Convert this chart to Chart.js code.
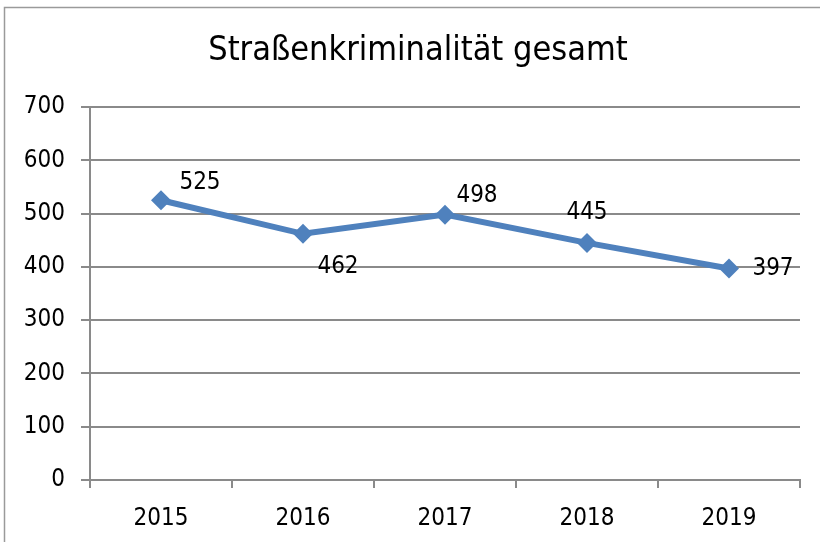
<!DOCTYPE html>
<html>
<head>
<meta charset="utf-8">
<script src="https://cdn.jsdelivr.net/npm/chart.js@4"></script>
<style>
  html, body { margin: 0; padding: 0; background: #fff; }
  #wrap { width: 820px; height: 542px; }
</style>
</head>
<body>
<div id="wrap"><canvas id="myChart" width="820" height="542"></canvas></div>
<script>
// chart data
const years = ['2015', '2016', '2017', '2018', '2019'];
const crimes = [525, 462, 498, 445, 397];
const yTicks = [0, 100, 200, 300, 400, 500, 600, 700];
const chartTitle = 'Straßenkriminalität gesamt';

const FONT = "'Liberation Sans Narrow', 'DejaVu Sans Condensed', sans-serif";
const GRID = '#8a8a8a';

// little plugin: outer frame, title, excel-like value labels
const extras = {
    id: 'extras',
    beforeDraw(chart) {
        const c = chart.ctx;
        c.save();
        c.strokeStyle = '#9a9a9a';
        c.lineWidth = 1.5;
        c.beginPath();
        c.moveTo(4.5, 545);
        c.lineTo(4.5, 7.5);
        c.lineTo(825, 7.5);
        c.stroke();
        // title, centred over the whole frame (not the canvas)
        c.font = '34px ' + FONT;
        c.fillStyle = '#000';
        c.textAlign = 'center';
        c.textBaseline = 'middle';
        c.fillText(chartTitle, 418, 51);
        c.restore();
    },
    afterDatasetsDraw(chart, args, opts) {
        const c = chart.ctx;
        const meta = chart.getDatasetMeta(0);
        c.save();
        c.font = '24px ' + FONT;
        c.fillStyle = '#000';
        c.textAlign = 'center';
        c.textBaseline = 'middle';
        meta.data.forEach((pt, i) => {
            const off = opts.offsets[i];
            c.fillText(String(crimes[i]), pt.x + off[0], pt.y + off[1]);
        });
        c.restore();
    }
};

let myChart = document.getElementById('myChart').getContext('2d');

let crimeChart = new Chart(myChart, {
    type: 'line',
    data: {
        labels: years,
        datasets: [{
            label: 'Straßenkriminalität',
            data: crimes,
            borderColor: '#4F81BD',
            backgroundColor: '#4F81BD',
            borderWidth: 6,
            pointStyle: 'rectRot',
            pointRadius: 10,
            pointHoverRadius: 10,
            pointBorderWidth: 0,
            tension: 0
        }]
    },
    options: {
        responsive: false,
        animation: false,
        layout: { padding: { left: 0, right: 20, top: 107, bottom: 0 } },
        plugins: {
            legend: { display: false },
            tooltip: { enabled: false },
            title: { display: false },
            extras: {
                offsets: [[39, -17], [35, 33], [32, -19], [0, -30], [44, 0]]
            }
        },
        scales: {
            x: {
                offset: true,
                grid: {
                    offset: true,
                    drawOnChartArea: false,
                    color: GRID,
                    lineWidth: 2,
                    tickLength: 8
                },
                border: { color: GRID, width: 2 },
                ticks: {
                    color: '#000',
                    padding: 16,
                    font: { family: FONT, size: 24 }
                },
                afterFit(scale) { scale.height = 62; }
            },
            y: {
                min: 0,
                max: 700,
                afterBuildTicks(scale) {
                    scale.ticks = yTicks.map(v => ({ value: v }));
                },
                grid: {
                    color: GRID,
                    lineWidth: 2,
                    tickLength: 9
                },
                border: { color: GRID, width: 2 },
                ticks: {
                    color: '#000',
                    padding: 16,
                    font: { family: FONT, size: 24 }
                },
                afterFit(scale) { scale.width = 90; }
            }
        }
    },
    plugins: [extras]
});
</script>
</body>
</html>
